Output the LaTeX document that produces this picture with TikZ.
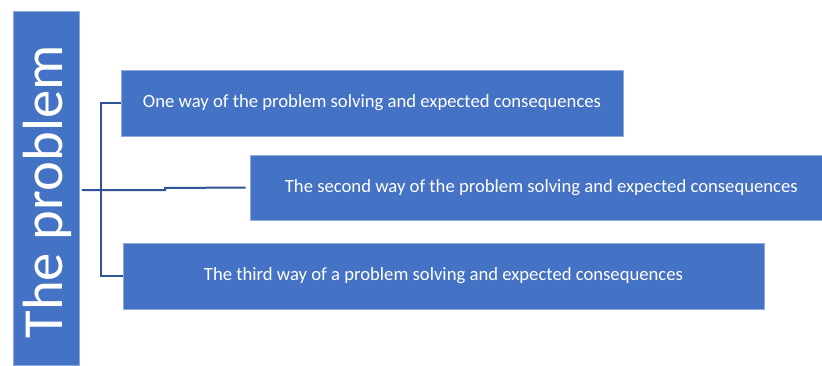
\documentclass[tikz,border=0pt]{standalone}
\usepackage{fontspec}
\setmainfont{Carlito}
\usepackage{tikz}
\usetikzlibrary{calc}
\definecolor{wayblue}{RGB}{68,114,196}
\definecolor{wayedge}{RGB}{143,170,220}
\definecolor{linkblue}{RGB}{47,85,151}

\tikzset{
  waybox/.style={fill=wayblue, draw=wayedge, line width=0.4pt, text=white,
    inner sep=0pt, font=\fontsize{14}{17}\selectfont},
  link/.style={draw=linkblue, line width=1.5pt}
}

\begin{document}
\begin{tikzpicture}[x=0.75pt,y=0.75pt,yscale=-1,xscale=1]
\useasboundingbox (0,0) rectangle (822,365);

% problem
\node (problem) [waybox, minimum width=49.5pt, minimum height=265.5pt] at (46,188) {};
\node [text=white, rotate=90, font=\fontsize{42.5}{50}\selectfont] at (47,192) {The problem};

% ways
\node (way1) [waybox, minimum width=376.5pt, minimum height=49.5pt] at (372,103) {One way of the problem solving and expected consequences};
\node (way2) [waybox, minimum width=429pt, minimum height=48.75pt] at (536,187.5) {\hspace*{8pt}The second way of the problem solving and expected consequences};
\node (way3) [waybox, minimum width=480.75pt, minimum height=49.5pt] at (443.5,276) {The third way of a problem solving and expected consequences};

% connectors
\coordinate (split) at (101,190);
\coordinate (step) at (165,190);
\draw [link] ([xshift=2] problem.east |- split) -- (step) -- ++(0,-2) -- ([xshift=-3] way2.west);
\draw [link] (way1.west) -| (split) |- (way3.west);

\end{tikzpicture}
\end{document}
